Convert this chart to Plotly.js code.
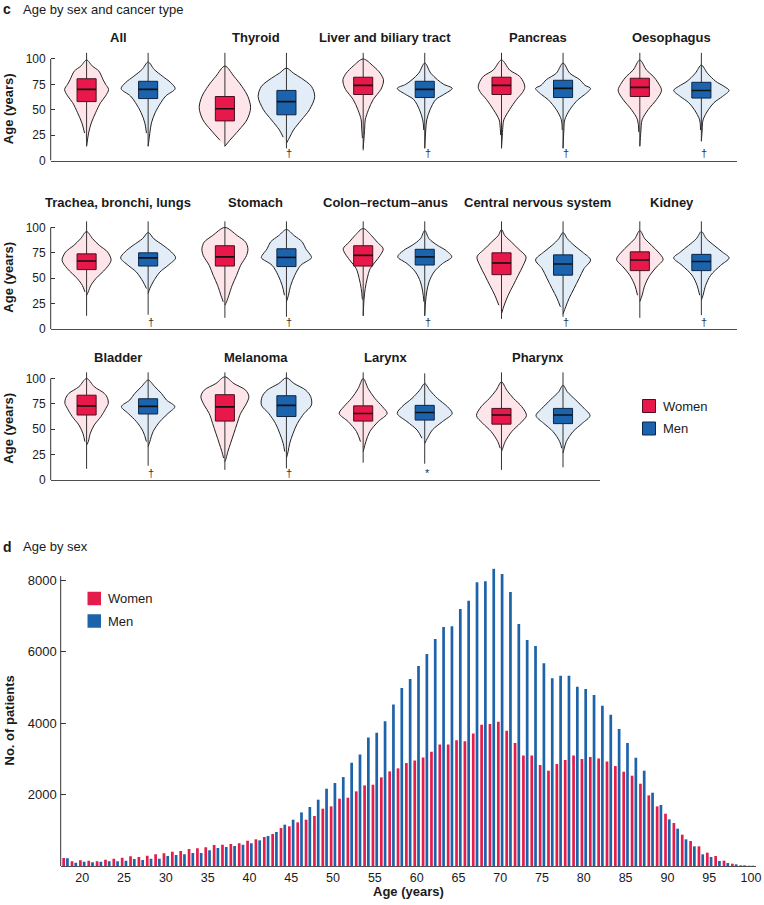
<!DOCTYPE html>
<html><head><meta charset="utf-8">
<script src="https://cdn.plot.ly/plotly-3.0.1.min.js"></script>
<style>html,body{margin:0;padding:0;background:#fff}#chart{width:764px;height:905px}</style>
</head><body><div id="chart"></div>
<script>
// ---------- Panel c: age by sex and cancer type ----------
const cancerTypes = ["All","Thyroid","Liver and biliary tract","Pancreas","Oesophagus",
  "Trachea, bronchi, lungs","Stomach","Colon\u2013rectum\u2013anus","Central nervous system","Kidney",
  "Bladder","Melanoma","Larynx","Pharynx"];
const significance = ["","\u2020","\u2020","\u2020","\u2020","\u2020","\u2020","\u2020","\u2020","\u2020","\u2020","\u2020","*",""];

const womenQ1     = [58,39,65,65,63, 58.5,62,62,53.5,57.5, 64,58,58,55];
const womenMedian = [70,51,74,74,72, 67,71,72.5,65,68, 73,72,65.5,64];
const womenQ3     = [80.5,63,82,82,81, 74,82,82,75,76, 83.5,84,73,70.5];
const menQ1       = [61,45,62,62,61.5, 62,61.5,63,53,57.5, 65,62.5,59,55.5];
const menMedian   = [70,58,70,71,69, 70,70.5,71,64,66.5, 72.5,73.5,66.5,64];
const menQ3       = [78,69,78,79,77, 75,79,78.5,73,73.5, 80,83,73.5,70.5];
const womenMin    = [14,14,10,12,14, 13,11,13,10,11, 11,10,17,10];
const womenMax    = [106,106,106,106,106, 106,106,106,106,106, 106,106,106,106];
const menMin      = [14,12,12,12,19, 14,12,13,12,13.7, 14,11.5,16,12.5];
const menMax      = [106,106,106,106,106, 106,106,106,106,106, 106,106,105,106];

// kernel density profiles: [age, density] (arbitrary units)
const womenDensity = [
 [[14,0],[27,2],[37,4.7],[47,9],[57,14],[63.6,19],[70,22],[75,19],[80,16.3],[88,12.3],[93,5.7],[99,0]],
 [[14,0],[20,5],[30,14],[40,22],[52,25.7],[63,23],[73,17],[83,9],[93,0]],
 [[12,0],[22,0.8],[32,1.5],[40,2],[50,5.3],[60,10],[70,17.7],[75,19.7],[79.6,20.3],[86,17],[93,10],[100,0]],
 [[12,0],[25,0.8],[35,1.5],[40,2.3],[50,8],[60,15],[67,21],[72,23.3],[76.5,22.3],[83,18],[89,8.3],[99,0]],
 [[14,0],[28,1],[40,2.3],[50,8.3],[60,16.7],[69,21.7],[76.5,18.3],[83,13.3],[89,6.7],[99,0]],
 [[33,0],[36.6,1.7],[43,4.3],[49.7,9.3],[59.5,19.3],[67.6,24.5],[75.8,21],[82.4,12.7],[88.9,6],[96,0]],
 [[23.5,0],[26.8,1.7],[33.3,4],[43,7.3],[52.9,11.7],[62.7,15.7],[72.5,21.7],[79,23],[85.6,20.7],[92,12.3],[100,0]],
 [[13,0],[29,0.8],[39.9,2],[49.7,4],[59.5,7],[66,12],[72.5,17],[79,20],[85.6,14],[92,8.3],[99,0]],
 [[15,0],[23.5,2.7],[33.3,6.7],[43,11.7],[52.9,16.7],[62.7,21.7],[71,24.5],[79,16.7],[85.6,10],[92,3.3],[98,0]],
 [[27,0],[33.3,2.3],[43,5],[52.9,10],[61.1,16.7],[68.6,23.3],[75.8,18.3],[82.4,11.7],[88.9,5],[97,0]],
 [[34.4,0],[37.8,1.7],[46,3.7],[54.2,7.7],[62.4,14.3],[70.6,19.3],[75.5,21.7],[80.4,21],[85.3,17.7],[91.8,7.7],[100,0]],
 [[18,0],[21.6,1.3],[28,3],[36.2,5.7],[46,9],[55.8,12.3],[65.6,15.7],[73.7,20.7],[82,24],[88.5,20.7],[95,9],[101.6,0]],
 [[28,0],[37.8,2.7],[47.7,6.7],[57.5,15],[65.6,24],[72.2,19.3],[80.4,11.7],[90.1,5],[100,0]],
 [[28,0],[31.3,1.3],[37.8,3.7],[47.7,10.3],[55.8,18.7],[63.4,25],[72.2,20.3],[80.4,12],[88.5,5.3],[96.7,0]]
];
const menDensity = [
 [[14,0],[27,1.7],[37,3.3],[47,7],[57,12.7],[63.6,17.7],[70.7,27],[76.6,22.7],[83,14.3],[89.7,6],[97,0]],
 [[17,0],[23,3.3],[30,7],[40,15],[50,23],[63,28.3],[73,25],[81,15],[86,7],[91,0]],
 [[12,0],[30,1],[40,2],[50,5.3],[60,11],[65,19],[71,27.5],[75,19],[79.6,12.7],[86,6],[96,0]],
 [[12,0],[30,0.8],[40,1.7],[50,6.7],[60,15],[65,21.7],[71,27.5],[74,22],[79.6,16.7],[86,6.7],[96,0]],
 [[19,0],[30,0.8],[40,1.7],[50,7],[57,12.7],[63,21],[69,27.7],[73,22.7],[78,14.3],[86,6],[94,0]],
 [[35,0],[39.9,1.7],[46.4,5],[56,11.7],[62.7,20],[70,27.5],[75.8,23.3],[82.4,15],[88.9,5.7],[95,0]],
 [[26.8,0],[33.3,2],[43,4.3],[52.9,8.3],[62.7,14.3],[70,25],[72.5,24.3],[79,19.3],[85.6,16],[92,7.7],[98,0]],
 [[13,0],[26.8,0.8],[36.6,2],[46.4,4.3],[56.2,9.3],[64.4,17.7],[71,27],[77.5,21],[82.4,12.7],[88.9,4.3],[97,0]],
 [[15,0],[21.9,2.7],[30.1,6],[39.9,11],[49.7,16],[59.5,21],[68,27.5],[75.8,19.3],[82.4,11],[88.9,4.3],[95,0]],
 [[28.5,0],[33.3,1.7],[43,4.3],[52.9,9.3],[62.7,19.3],[70,27.7],[75.8,21],[82.4,12.7],[88.9,5],[96,0]],
 [[32.8,0],[37.8,1.7],[47.7,5],[57.5,11.7],[65.6,20],[72.2,26.7],[78.8,18.3],[85.3,13.3],[91.8,6.7],[98.4,0]],
 [[21.6,0],[28,1.7],[36.2,3.3],[46,6.7],[55.8,11],[65.6,17.7],[73.7,25],[82,24.3],[88.5,19.3],[95,7.7],[100.6,0]],
 [[36,0],[41.1,2.7],[49.3,7.7],[57.5,17.7],[65.6,27.5],[72.2,22.7],[80.4,12.7],[88.5,5],[95,0]],
 [[26.5,0],[31.3,1.3],[37.8,3.3],[47.7,10],[55.8,19.3],[63.4,27],[70.6,21],[78.8,12.7],[86.9,4.3],[93.4,0]]
];

// ---------- Panel d: age by sex ----------
const ageYears = [18,19,20,21,22,23,24,25,26,27,28,29,30,31,32,33,34,35,36,37,38,39,40,41,42,43,44,45,46,47,48,49,50,
  51,52,53,54,55,56,57,58,59,60,61,62,63,64,65,66,67,68,69,70,71,72,73,74,75,76,77,78,79,80,
  81,82,83,84,85,86,87,88,89,90,91,92,93,94,95,96,97,98,99,100];
const womenCounts = [224,130,158,149,130,177,205,233,270,252,289,326,354,401,419,475,494,522,587,596,615,634,708,746,811,895,1062,1109,1221,1295,1398,1603,1668,
  1883,1911,2088,2255,2274,2479,2647,2731,2880,2954,3038,3197,3402,3402,3514,3486,3705,3950,3970,4035,3780,3439,3094,3094,2824,2666,2852,2964,3094,2992,
  3048,3010,2926,2796,2638,2526,2302,1976,1668,1463,1202,876,699,550,373,280,149,65,19,9];
const menCounts = [214,93,121,103,121,130,130,149,196,168,205,205,280,308,326,363,363,438,503,531,559,596,634,718,839,951,1156,1295,1500,1650,1855,2162,2321,
  2488,2889,3122,3597,3725,4050,4520,4979,5231,5594,5930,6350,6685,6704,7189,7422,7935,7963,8317,8168,7664,6769,6322,6154,5669,5249,5324,5324,5016,4951,
  4780,4480,4230,3830,3439,3029,2666,2050,1706,1305,1044,746,550,326,252,140,84,47,19,9];
const xTickAges = [20,25,30,35,40,45,50,55,60,65,70,75,80,85,90,95,100];
const countTicks = [2000,4000,6000,8000];
const ageTicks = [0,25,50,75,100];

// ---------- styling ----------
const W = 764, H = 905;
const FONT = 'Liberation Sans, Arial, Helvetica, sans-serif';
const COL = {
  wFill:'#FDE5EA', mFill:'#E3EDF8', wBox:'#E8184B', mBox:'#1C63AE',
  wBoxLine:'#4B0F20', mBoxLine:'#0D2646', wBar:'#E31E4D', mBar:'#1D63A9', ink:'#1a1a1a'
};
const PX_PER_UNIT = 138.3;      // pixels per panel unit on the violin x axes
const SIDE = 0.2225;            // offset of each violin from the panel center
const BOX_HALF = 0.069;         // half width of a box, panel units
const px = v => v / W;
const py = v => 1 - v / H;

const rowY = [ [160.5, 48.8], [329, 217.3], [480, 368.3] ]; // [bottom, top] in px
const titleY = [37, 202, 357.7];
const titleXpx = [118, 255.8, 385.2, 537.5, 671.8];

const traces = [];
const annotations = [];
const shapes = [];

function axisIds(r){ return r === 0 ? ['x','y'] : ['x'+(r+1), 'y'+(r+1)]; }

function violinTrace(center, dens, fill, xa, ya){
  const xs = [], ys = [];
  for (let k = 0; k < dens.length; k++){ xs.push(center + dens[k][1]/PX_PER_UNIT); ys.push(dens[k][0]); }
  for (let k = dens.length - 2; k >= 1; k--){ xs.push(center - dens[k][1]/PX_PER_UNIT); ys.push(dens[k][0]); }
  return {type:'scatter', mode:'lines', x:xs, y:ys, fill:'toself', fillcolor:fill,
    line:{color:'#222', width:1, shape:'spline', smoothing:0.9}, xaxis:xa, yaxis:ya,
    hoverinfo:'skip', showlegend:false};
}
function stemTrace(center, lo, hi, xa, ya){
  return {type:'scatter', mode:'lines', x:[center, center], y:[lo, hi],
    line:{color:'#333', width:1}, xaxis:xa, yaxis:ya, hoverinfo:'skip', showlegend:false};
}
function boxTraces(center, q1, med, q3, fill, lc, xa, ya){
  const l = center - BOX_HALF, r = center + BOX_HALF;
  return [
    {type:'scatter', mode:'lines', x:[l, r, r, l, l], y:[q1, q1, q3, q3, q1], fill:'toself', fillcolor:fill,
     line:{color:lc, width:1}, xaxis:xa, yaxis:ya, hoverinfo:'skip', showlegend:false},
    {type:'scatter', mode:'lines', x:[l, r], y:[med, med], line:{color:'#111', width:1.6},
     xaxis:xa, yaxis:ya, hoverinfo:'skip', showlegend:false}
  ];
}

cancerTypes.forEach((name, i) => {
  const r = Math.floor(i/5), c = i % 5;
  const [xa, ya] = axisIds(r);
  const wc = c - SIDE, mc = c + SIDE;
  traces.push(violinTrace(wc, womenDensity[i], COL.wFill, xa, ya));
  traces.push(violinTrace(mc, menDensity[i], COL.mFill, xa, ya));
  traces.push(stemTrace(wc, womenMin[i], womenMax[i], xa, ya));
  traces.push(stemTrace(mc, menMin[i], menMax[i], xa, ya));
  traces.push(...boxTraces(wc, womenQ1[i], womenMedian[i], womenQ3[i], COL.wBox, COL.wBoxLine, xa, ya));
  traces.push(...boxTraces(mc, menQ1[i], menMedian[i], menQ3[i], COL.mBox, COL.mBoxLine, xa, ya));
  annotations.push({xref:'paper', yref:'paper', x:px(titleXpx[c]), y:py(titleY[r]), text:'<b>'+name+'</b>', showarrow:false,
    xanchor:'center', yanchor:'middle', font:{size:13, color:COL.ink}});
  if (significance[i]) annotations.push({xref:xa, yref:ya, x:mc + 0.022, y:7, text:significance[i], showarrow:false,
    xanchor:'center', yanchor:'middle', font:{size:11, color:'#333'}});
});

// y axis lines only 0..100 and row y titles
for (let r = 0; r < 3; r++){
  const [xa, ya] = axisIds(r);
  shapes.push({type:'line', xref:xa+' domain', yref:ya, x0:0, x1:0, y0:0, y1:100, line:{color:'#333', width:1}});
  annotations.push({xref:'paper', yref:'paper', x:px(8.5), y:py((rowY[r][0]+rowY[r][1])/2 + 4), text:'<b>Age (years)</b>',
    textangle:-90, showarrow:false, xanchor:'center', yanchor:'middle', font:{size:13, color:COL.ink}});
}
// bar chart y axis line
shapes.push({type:'line', xref:'x4 domain', yref:'y4', x0:0, x1:0, y0:0, y1:8110, line:{color:'#333', width:1}});

// bar traces
traces.push({type:'bar', name:'Women', x:ageYears, y:womenCounts, marker:{color:COL.wBar, line:{width:0}},
  xaxis:'x4', yaxis:'y4', hoverinfo:'skip', showlegend:false});
traces.push({type:'bar', name:'Men', x:ageYears, y:menCounts, marker:{color:COL.mBar, line:{width:0}},
  xaxis:'x4', yaxis:'y4', hoverinfo:'skip', showlegend:false});

// section labels
annotations.push({xref:'paper', yref:'paper', x:px(1), y:py(9.5), text:'<b>c</b>', showarrow:false, xanchor:'left', yanchor:'middle', font:{size:14, color:COL.ink}});
annotations.push({xref:'paper', yref:'paper', x:px(20.5), y:py(9.5), text:'Age by sex and cancer type', showarrow:false, xanchor:'left', yanchor:'middle', font:{size:13, color:COL.ink}});
annotations.push({xref:'paper', yref:'paper', x:px(1), y:py(546.5), text:'<b>d</b>', showarrow:false, xanchor:'left', yanchor:'middle', font:{size:14, color:COL.ink}});
annotations.push({xref:'paper', yref:'paper', x:px(20.5), y:py(546.5), text:'Age by sex', showarrow:false, xanchor:'left', yanchor:'middle', font:{size:13, color:COL.ink}});
// bar axis titles
annotations.push({xref:'paper', yref:'paper', x:px(8.5), y:py(721), text:'<b>No. of patients</b>', textangle:-90, showarrow:false, xanchor:'center', yanchor:'middle', font:{size:13, color:COL.ink}});
annotations.push({xref:'paper', yref:'paper', x:px(408), y:py(891.5), text:'<b>Age (years)</b>', showarrow:false, xanchor:'center', yanchor:'middle', font:{size:13, color:COL.ink}});

// legends (drawn)
function legendItem(x0, yc, size, fill, lc, label){
  shapes.push({type:'rect', xref:'paper', yref:'paper', x0:px(x0), x1:px(x0+size), y0:py(yc+size/2), y1:py(yc-size/2),
    fillcolor:fill, line:{color:lc || fill, width:lc ? 1 : 0}});
  annotations.push({xref:'paper', yref:'paper', x:px(x0+size+5), y:py(yc), text:label, showarrow:false,
    xanchor:'left', yanchor:'middle', font:{size:13, color:COL.ink}});
}
legendItem(642.5, 406, 13, COL.wBox, COL.wBoxLine, 'Women');
legendItem(642.5, 428.5, 13, COL.mBox, COL.mBoxLine, 'Men');
legendItem(87.5, 598.5, 13.5, COL.wBar, null, 'Women');
legendItem(87.5, 621, 13.5, COL.mBar, null, 'Men');

function violinX(r){
  return {domain:[px(50.7), px(r === 2 ? 600 : 736.7)], range:[-0.482, r === 2 ? 3.49 : 4.478], anchor: r===0?'y':'y'+(r+1),
    showgrid:false, zeroline:false, showline:true, linecolor:'#4d4d4d', linewidth:1, showticklabels:false, ticks:'', fixedrange:true};
}
function violinY(r){
  return {domain:[py(rowY[r][0]), py(rowY[r][1])], range:[0,110], anchor: r===0?'x':'x'+(r+1),
    tickvals:ageTicks, ticktext:ageTicks.map(String), ticks:'inside', ticklen:4, tickcolor:'#333', tickwidth:1,
    ticklabelstandoff:4,
    showgrid:false, zeroline:false, showline:false, tickfont:{size:12, color:COL.ink}, fixedrange:true};
}

const layout = {
  width:W, height:H, margin:{l:0, r:0, t:0, b:0, pad:0}, paper_bgcolor:'#fff', plot_bgcolor:'rgba(0,0,0,0)',
  showlegend:false, font:{family:FONT, color:COL.ink, size:12},
  barmode:'group', bargap:0.1, bargroupgap:0.28,
  xaxis:violinX(0), yaxis:violinY(0), xaxis2:violinX(1), yaxis2:violinY(1), xaxis3:violinX(2), yaxis3:violinY(2),
  xaxis4:{domain:[px(60.7), px(756)], range:[17.42, 100.6], anchor:'y4', tickvals:xTickAges, ticktext:xTickAges.map(String),
    ticks:'', showgrid:false, zeroline:false, showline:true, linecolor:'#4d4d4d', linewidth:1,
    tickfont:{size:12.5, color:COL.ink}, fixedrange:true},
  yaxis4:{domain:[py(866), py(866 - 8330*0.03575)], range:[0, 8330], anchor:'x4', tickvals:countTicks, ticktext:countTicks.map(String),
    ticks:'inside', ticklen:5, tickcolor:'#333', ticklabelstandoff:3, showgrid:false, zeroline:false, showline:false,
    tickfont:{size:13, color:COL.ink}, fixedrange:true},
  annotations:annotations, shapes:shapes
};

Plotly.newPlot('chart', traces, layout, {staticPlot:true, displayModeBar:false});
</script>
</body></html>
